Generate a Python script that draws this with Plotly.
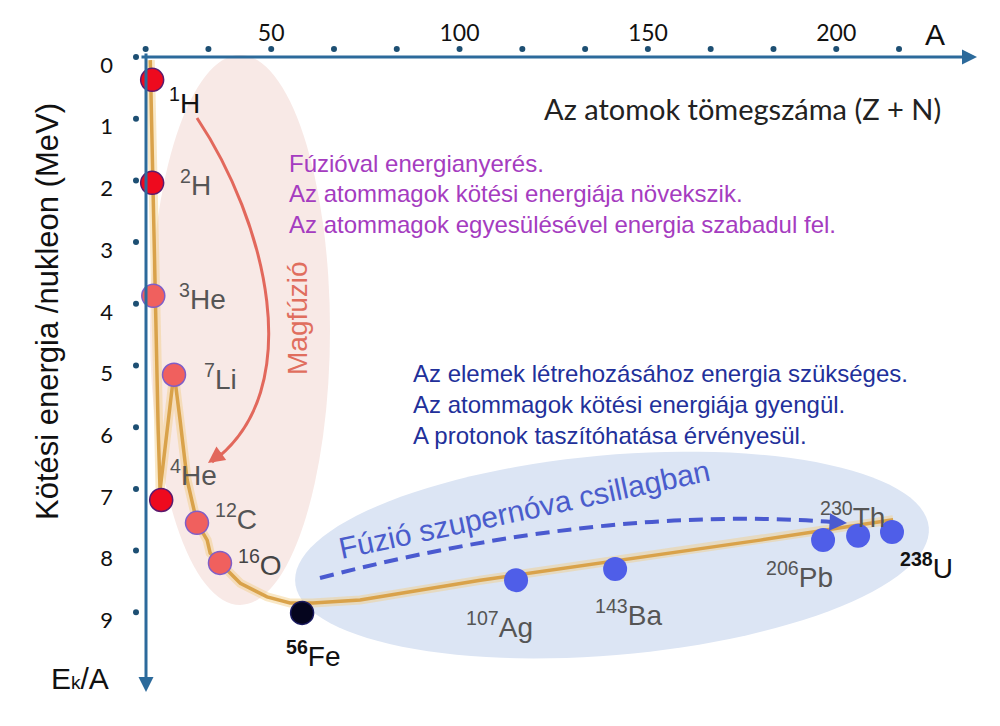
import numpy as np
import plotly.graph_objects as go

# ---------------- data ----------------
nuclide_labels = ["<sup>1</sup>H", "<sup>2</sup>H", "<sup>3</sup>He", "<sup>7</sup>Li", "<sup>4</sup>He",
                  "<sup>12</sup>C", "<sup>16</sup>O", "<sup><b>56</b></sup>Fe", "<sup>107</sup>Ag",
                  "<sup>143</sup>Ba", "<sup>206</sup>Pb", "<sup>230</sup>Th", "<sup><b>238</b></sup>U"]
mass_number_pos = [18.4, 18.4, 18.7, 24.2, 20.8, 30.3, 36.4, 58.2, 115.0, 141.3, 196.5, 205.8, 214.8]
binding_energy = [0.37, 2.04, 3.87, 5.15, 7.18, 7.55, 8.20, 9.01, 8.48, 8.30, 7.83, 7.76, 7.70]
point_group = ["red", "red", "salmon", "salmon", "red", "salmon", "salmon", "iron",
               "heavy", "heavy", "heavy", "heavy", "heavy"]

# label positions for nuclides (A, MeV)
label_A = [26.9, 29.9, 31.7, 36.5, 29.3, 40.7, 47.1, 61.2, 110.5, 144.8, 190.2, 204.2, 223.9]
label_E = [0.71, 2.04, 3.89, 5.19, 6.74, 7.46, 8.20, 9.68, 9.21, 9.01, 8.40, 7.42, 8.25]
label_color = ["#111111", "#555555", "#555555", "#555555", "#555555", "#555555", "#444444",
               "#111111", "#555555", "#555555", "#555555", "#555555", "#111111"]

# binding energy curve
curve_A = [17.9, 18.4, 18.9, 19.5, 20.0, 20.5, 24.2, 25.8, 27.7, 30.3, 33.0, 33.8, 36.4,
           41.8, 48.9, 55.0, 61.1, 73.6, 105.5, 140.8, 179.8, 215.1]
curve_E = [0.05, 1.51, 3.13, 4.75, 6.05, 7.02, 5.11, 5.88, 6.86, 7.55, 7.83, 8.04, 8.20,
           8.53, 8.75, 8.85, 8.85, 8.80, 8.48, 8.17, 7.83, 7.50]

x_tick_vals = [50 / 3 * k for k in range(1, 14)]
x_tick_text = ["", "", "50", "", "", "100", "", "", "150", "", "", "200", ""]
y_tick_vals = list(range(10))
y_tick_text = [str(v) for v in y_tick_vals]

# ---------------- geometry helpers (layout only) ----------------
X_OFF, X_SCALE = 82.85, 3.767     # px = X_OFF + X_SCALE * A
Y_OFF, Y_SCALE = 57.0, 61.7       # py = Y_OFF + Y_SCALE * E
def dx(px): return (px - X_OFF) / X_SCALE
def dy(py): return (py - Y_OFF) / Y_SCALE
L, R, T, B = 130, 15, 47, 26
W, H = 1000, 726
def paper_x(px): return (px - L) / (W - L - R)
def paper_y(py): return (H - B - py) / (H - T - B)

fig = go.Figure()

# pink fusion ellipse
fig.add_shape(type="circle", xref="x", yref="y", x0=dx(150), x1=dx(330), y0=dy(55), y1=dy(605),
              fillcolor="#f8e9e6", line=dict(width=0), layer="below")
# blue supernova ellipse (rotated) as path
cx, cy, a, b, th = 612, 555, 318, 100, np.deg2rad(5)
t = np.linspace(0, 2 * np.pi, 120)
ex = cx + a * np.cos(t) * np.cos(th) + b * np.sin(t) * np.sin(th)
ey = cy - a * np.cos(t) * np.sin(th) + b * np.sin(t) * np.cos(th)
path = "M " + " L ".join(f"{dx(px):.3f},{dy(py):.3f}" for px, py in zip(ex, ey)) + " Z"
fig.add_shape(type="path", path=path, xref="x", yref="y", fillcolor="#dce5f4",
              line=dict(width=0), layer="below")

# curve
fig.add_trace(go.Scatter(x=curve_A, y=curve_E, mode="lines",
                         line=dict(color="rgba(242,205,130,0.45)", width=9),
                         hoverinfo="skip", showlegend=False))
fig.add_trace(go.Scatter(x=curve_A, y=curve_E, mode="lines",
                         line=dict(color="#d9a24a", width=3.5),
                         hoverinfo="skip", showlegend=False))

# red curved arrow (Magfúzió)
p0, p1, p2, p3 = (197, 118), (265, 220), (310, 390), (212, 462)
fig.add_shape(type="path", xref="x", yref="y",
              path=f"M {dx(p0[0])},{dy(p0[1])} C {dx(p1[0])},{dy(p1[1])} {dx(p2[0])},{dy(p2[1])} {dx(p3[0])},{dy(p3[1])}",
              line=dict(color="#e2685c", width=3))
fig.add_annotation(x=dx(208), y=dy(463), ax=15, ay=-11, text="", showarrow=True,
                   arrowhead=2, arrowsize=1.1, arrowwidth=3, arrowcolor="#e2685c")

# blue dashed arrow
q0, q1, q2 = (320, 578), (600, 505), (832, 522)
fig.add_shape(type="path", xref="x", yref="y",
              path=f"M {dx(q0[0])},{dy(q0[1])} Q {dx(q1[0])},{dy(q1[1])} {dx(q2[0])},{dy(q2[1])}",
              line=dict(color="#4a5ad0", width=4, dash="14px,8px"))
fig.add_annotation(x=dx(847), y=dy(523), ax=-16, ay=-1, text="", showarrow=True,
                   arrowhead=2, arrowsize=1.0, arrowwidth=3.5, arrowcolor="#4a5ad0")

# points
styles = {
    "red": dict(color="#ee0a1e", line=dict(color="#5b1a6e", width=1.5)),
    "salmon": dict(color="#f0605e", line=dict(color="#7e5ec8", width=1.5)),
    "iron": dict(color="#05051e", line=dict(color="#1a1a60", width=1.5)),
    "heavy": dict(color="#4f5ee8", line=dict(color="#4f5ee8", width=0)),
}
for g, st in styles.items():
    xs = [x for x, gg in zip(mass_number_pos, point_group) if gg == g]
    ys = [y for y, gg in zip(binding_energy, point_group) if gg == g]
    fig.add_trace(go.Scatter(x=xs, y=ys, mode="markers", showlegend=False, hoverinfo="skip",
                             marker=dict(size=23 if g != "heavy" else 24, color=st["color"], line=st["line"])))

# axis tick dots
fig.add_trace(go.Scatter(x=x_tick_vals, y=[dy(49)] * len(x_tick_vals), mode="markers",
                         marker=dict(size=6, color="#1d4f73"), cliponaxis=False,
                         hoverinfo="skip", showlegend=False))
fig.add_trace(go.Scatter(x=[dx(136)] * len(y_tick_vals), y=y_tick_vals, mode="markers",
                         marker=dict(size=6, color="#1d4f73"), cliponaxis=False,
                         hoverinfo="skip", showlegend=False))

# axis lines with arrows
axis_col = "#2c6a9b"
fig.add_annotation(x=dx(977), y=0, ax=dx(140), ay=0, axref="x", ayref="y", text="",
                   showarrow=True, arrowhead=2, arrowsize=1.0, arrowwidth=3, arrowcolor=axis_col)
fig.add_annotation(x=dx(146), y=dy(692), ax=dx(146), ay=dy(52), axref="x", ayref="y", text="",
                   showarrow=True, arrowhead=2, arrowsize=1.0, arrowwidth=3, arrowcolor=axis_col)

# nuclide labels
for txt, lx, ly, col in zip(nuclide_labels, label_A, label_E, label_color):
    fig.add_annotation(x=lx, y=ly, text=txt, showarrow=False, xanchor="center", yanchor="middle",
                       font=dict(family="Liberation Sans, Arial", size=28, color=col))

# text blocks
purple = ["Fúzióval energianyerés.", "Az atommagok kötési energiája növekszik.",
          "Az atommagok egyesülésével energia szabadul fel."]
for s, py in zip(purple, [163, 193, 224]):
    fig.add_annotation(x=dx(287), y=dy(py), text=s, showarrow=False, xanchor="left", yanchor="middle",
                       font=dict(family="Liberation Sans, Arial", size=24, color="#a53cc0"))
navy = ["Az elemek létrehozásához energia szükséges.", "Az atommagok kötési energiája gyengül.",
        "A protonok taszítóhatása érvényesül."]
for s, py in zip(navy, [373, 404, 435]):
    fig.add_annotation(x=dx(411), y=dy(py), text=s, showarrow=False, xanchor="left", yanchor="middle",
                       font=dict(family="Liberation Sans, Arial", size=24, color="#22309a"))

fig.add_annotation(x=dx(297), y=dy(318), text="Magfúzió", textangle=-90, showarrow=False,
                   xanchor="center", yanchor="middle",
                   font=dict(family="Liberation Sans, Arial", size=28, color="#e06e5e"))
fig.add_annotation(x=dx(524), y=dy(509), text="Fúzió szupernóva csillagban", textangle=-12,
                   showarrow=False, xanchor="center", yanchor="middle",
                   font=dict(family="Liberation Sans, Arial", size=30, color="#4a5ccc"))
fig.add_annotation(x=dx(742), y=dy(108), text="Az atomok tömegszáma (Z + N)", showarrow=False,
                   xanchor="center", yanchor="middle",
                   font=dict(family="Lato, Open Sans", size=29, color="#222222"))
fig.add_annotation(xref="paper", yref="paper", x=paper_x(935), y=paper_y(35), text="A",
                   showarrow=False, xanchor="center", yanchor="middle",
                   font=dict(family="Liberation Sans, Arial", size=30, color="#111111"))
fig.add_annotation(xref="paper", yref="paper", x=paper_x(47), y=paper_y(312),
                   text="Kötési energia /nukleon (MeV)", textangle=-90, showarrow=False,
                   xanchor="center", yanchor="middle",
                   font=dict(family="Liberation Sans, Arial", size=31, color="#111111"))
fig.add_annotation(xref="paper", yref="paper", x=paper_x(80), y=paper_y(678),
                   text="E<span style='font-size:19px'>k</span>/A", showarrow=False,
                   xanchor="center", yanchor="middle",
                   font=dict(family="Liberation Sans, Arial", size=30, color="#111111"))

fig.update_layout(
    width=W, height=H, margin=dict(l=L, r=R, t=T, b=B),
    paper_bgcolor="white", plot_bgcolor="white", showlegend=False,
    xaxis=dict(side="top", range=[dx(L), dx(W - R)], showgrid=False, zeroline=False, showline=False,
               tickmode="array", tickvals=x_tick_vals, ticktext=x_tick_text, ticks="",
               ticklabelstandoff=0, tickfont=dict(family="Lato, Open Sans", size=23, color="#111111")),
    yaxis=dict(range=[dy(H - B), dy(T)], showgrid=False, zeroline=False, showline=False,
               tickmode="array", tickvals=y_tick_vals, ticktext=y_tick_text, ticks="",
               ticklabelstandoff=16, ticklabelshift=-8,
               tickfont=dict(family="Lato, Open Sans", size=22, color="#111111")),
)

fig.write_html("out.html")
